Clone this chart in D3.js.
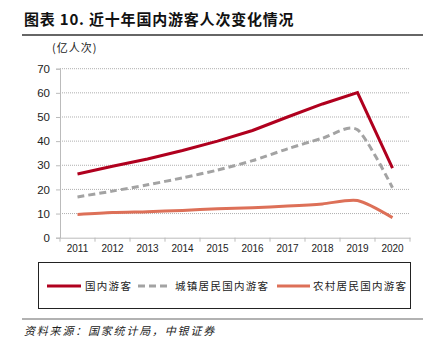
<!DOCTYPE html>
<html>
<head>
<meta charset="utf-8">
<script src="https://cdn.jsdelivr.net/npm/d3@7"></script>
<style>
  body { margin: 0; background: #fff; }
  svg { display: block; }
</style>
</head>
<body>
<svg id="chart" width="432" height="344"></svg>
<script>
// Data (亿人次)
const years = ["2011", "2012", "2013", "2014", "2015", "2016", "2017", "2018", "2019", "2020"];
const totalTrips = [26.4, 29.6, 32.6, 36.1, 40.0, 44.4, 50.0, 55.4, 60.1, 28.8];
const urbanTrips = [16.9, 19.3, 21.9, 24.8, 28.0, 31.9, 36.8, 41.2, 44.7, 20.7];
const ruralTrips = [9.6, 10.4, 10.8, 11.3, 12.0, 12.4, 13.1, 14.0, 15.4, 8.3];
const yTicks = [0, 10, 20, 30, 40, 50, 60, 70];
const seriesNames = ["国内游客", "城镇居民国内游客", "农村居民国内游客"];

const svg = d3.select("#chart");
const cjk = "'Noto Sans CJK SC', sans-serif";
const num = "'Liberation Sans', Arial, sans-serif";

// Header: title + rule
svg.append("text")
    .attr("x", 24).attr("y", 25)
    .attr("font-family", cjk)
    .attr("font-size", "15px")
    .attr("font-weight", "bold")
    .attr("letter-spacing", "0.8px")
    .attr("fill", "#111")
    .text("图表 10. 近十年国内游客人次变化情况");
svg.append("line")
    .attr("x1", 22).attr("x2", 423)
    .attr("y1", 35).attr("y2", 35)
    .attr("stroke", "#333").attr("stroke-width", 1.5);

svg.append("text")
    .attr("x", 52).attr("y", 52)
    .attr("font-family", cjk)
    .attr("font-size", "11px")
    .attr("letter-spacing", "1px")
    .attr("fill", "#222")
    .text("(亿人次)");

// Scales
const x = d3.scaleBand().domain(years).range([60, 410]);
const y = d3.scaleLinear().domain([0, 70]).range([237.7, 68.7]);

// Gridlines
svg.append("g")
    .selectAll("line")
    .data(yTicks.filter(d => d > 0))
    .enter()
    .append("line")
    .attr("x1", 60).attr("x2", 410)
    .attr("y1", d => y(d)).attr("y2", d => y(d))
    .attr("stroke", "#9a9a9a")
    .attr("stroke-width", 0.8)
    .attr("stroke-dasharray", "1,1");

// Y axis
const yAxis = svg.append("g")
    .attr("transform", "translate(60,0)")
    .call(d3.axisLeft(y).tickValues(yTicks).tickSize(4).tickPadding(6));
yAxis.select(".domain").attr("stroke", "#bbb");
yAxis.selectAll(".tick line").attr("stroke", "#bbb");
yAxis.selectAll("text")
    .attr("font-family", num)
    .attr("font-size", "11.5px")
    .attr("fill", "#222");

// X axis (ticks between categories)
const xAxis = svg.append("g")
    .attr("transform", `translate(0,${y(0)})`)
    .call(d3.axisBottom(x).tickSize(0).tickPadding(7));
xAxis.select(".domain").attr("stroke", "#bbb");
xAxis.selectAll("text")
    .attr("font-family", num)
    .attr("font-size", "10px")
    .attr("fill", "#222");
svg.append("g")
    .selectAll("line")
    .data(years.concat(["end"]))
    .enter()
    .append("line")
    .attr("x1", (d, i) => 60 + i * x.bandwidth())
    .attr("x2", (d, i) => 60 + i * x.bandwidth())
    .attr("y1", y(0)).attr("y2", y(0) + 4)
    .attr("stroke", "#bbb");

// Lines
const cx = (d, i) => x(years[i]) + x.bandwidth() / 2;
const straight = d3.line().x(cx).y(d => y(d));
const smooth = d3.line().x(cx).y(d => y(d)).curve(d3.curveCardinal.tension(0.25));

const series = [
    { values: totalTrips, gen: straight, color: "#b0001e", dash: null },
    { values: urbanTrips, gen: smooth, color: "#a3a3a3", dash: "7,4" },
    { values: ruralTrips, gen: smooth, color: "#dd7058", dash: null }
];

svg.append("g")
    .selectAll("path")
    .data(series)
    .enter()
    .append("path")
    .attr("d", d => d.gen(d.values))
    .attr("fill", "none")
    .attr("stroke", d => d.color)
    .attr("stroke-width", 3)
    .attr("stroke-dasharray", d => d.dash);

// Legend box
svg.append("rect")
    .attr("x", 38.5).attr("y", 262.5)
    .attr("width", 372).attr("height", 46)
    .attr("fill", "none")
    .attr("stroke", "#222").attr("stroke-width", 1);

const legendPos = [
    { x1: 47, x2: 81, tx: 85 },
    { x1: 138, x2: 168, tx: 175 },
    { x1: 277, x2: 310, tx: 313 }
];
const legend = svg.append("g")
    .selectAll("g")
    .data(series)
    .enter()
    .append("g");
legend.append("line")
    .attr("x1", (d, i) => legendPos[i].x1)
    .attr("x2", (d, i) => legendPos[i].x2)
    .attr("y1", 286).attr("y2", 286)
    .attr("stroke", d => d.color)
    .attr("stroke-width", 3)
    .attr("stroke-dasharray", d => d.dash ? "7,4" : null);
legend.append("text")
    .attr("x", (d, i) => legendPos[i].tx)
    .attr("y", 290)
    .attr("font-family", cjk)
    .attr("font-size", "10.5px")
    .attr("letter-spacing", "1.3px")
    .attr("fill", "#222")
    .text((d, i) => seriesNames[i]);

// Footer
svg.append("line")
    .attr("x1", 22).attr("x2", 423)
    .attr("y1", 319).attr("y2", 319)
    .attr("stroke", "#999").attr("stroke-width", 1.5);
svg.append("text")
    .attr("x", 24).attr("y", 335)
    .attr("font-family", cjk)
    .attr("font-size", "11px")
    .attr("font-style", "italic")
    .attr("letter-spacing", "1.8px")
    .attr("fill", "#222")
    .text("资料来源：国家统计局，中银证券");
</script>
</body>
</html>
